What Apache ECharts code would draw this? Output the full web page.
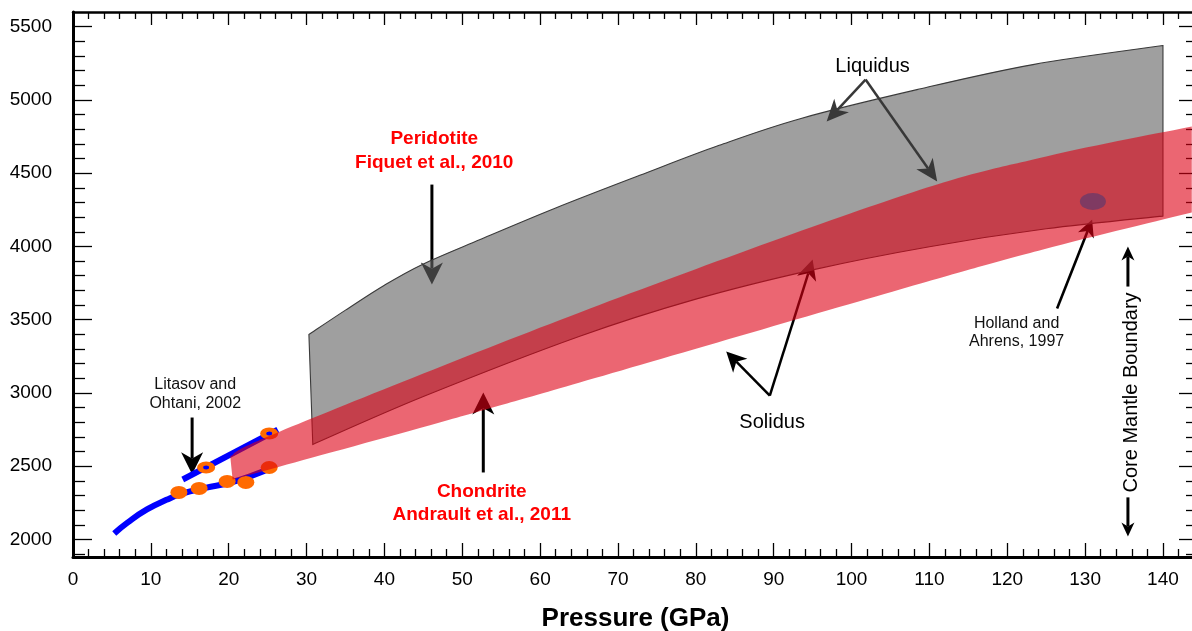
<!DOCTYPE html>
<html>
<head>
<meta charset="utf-8">
<script src="https://cdn.jsdelivr.net/npm/echarts@6/dist/echarts.min.js"></script>
<style>
  html, body { margin: 0; padding: 0; background: #fff; }
  #chart { width: 1192px; height: 631px; }
</style>
</head>
<body>
<div id="chart"></div>
<script>
// ---- Peridotite melting (Fiquet et al., 2010): pressure in GPa, temperature in K ----
const liquidusP = [30.3, 35, 40, 45, 52.3, 62, 72.8, 83, 93.4, 108.4, 123.3, 140];
const liquidusT = [3399, 3565, 3735, 3880, 4047, 4262, 4485, 4690, 4872, 5070, 5241, 5371];
const solidusP  = [30.8, 45, 65, 80, 95, 110, 125, 140];
const solidusT  = [2648, 2975, 3385, 3640, 3840, 3998, 4120, 4207];

// ---- Chondrite solidus band (Andrault et al., 2011) ----
const chondriteTopP = [20.2, 26.6, 65.1, 106.2, 125, 143.7];
const chondriteTopT = [2566, 2737, 3549, 4340, 4613, 4818];
const chondriteBotP = [20.5, 26.6, 47.1, 65.1, 106.2, 124.6, 143.7];
const chondriteBotT = [2409, 2498, 2798, 3071, 3706, 3979, 4231];

// ---- Litasov and Ohtani, 2002 ----
const litasovSolP = [5.3, 7, 9.5, 12, 14, 17, 20, 23, 25.8];
const litasovSolT = [2041, 2115, 2205, 2270, 2312, 2352, 2385, 2435, 2498];
const litasovLiqP = [14.1, 26.3];
const litasovLiqT = [2409, 2750];
const litasovSolidP = [13.6, 16.2, 19.8, 22.2, 25.2];
const litasovSolidT = [2321, 2348, 2396, 2389, 2491];
const litasovOpenP = [17.1, 25.2];
const litasovOpenT = [2491, 2723];

// ---- Holland and Ahrens, 1997 ----
const hollandP = [131.0];
const hollandT = [4306];

// ---- Axis ticks ----
const pressureTicks = [0, 10, 20, 30, 40, 50, 60, 70, 80, 90, 100, 110, 120, 130, 140];
const pressureMinor = [2, 4, 6, 8, 12, 14, 16, 18, 22, 24, 26, 28, 32, 34, 36, 38, 42, 44, 46, 48,
  52, 54, 56, 58, 62, 64, 66, 68, 72, 74, 76, 78, 82, 84, 86, 88, 92, 94, 96, 98, 102, 104, 106, 108,
  112, 114, 116, 118, 122, 124, 126, 128, 132, 134, 136, 138, 142, 144];
const tempTicks = [2000, 2500, 3000, 3500, 4000, 4500, 5000, 5500];
const tempMinor = [1900, 2100, 2200, 2300, 2400, 2600, 2700, 2800, 2900, 3100, 3200, 3300, 3400,
  3600, 3700, 3800, 3900, 4100, 4200, 4300, 4400, 4600, 4700, 4800, 4900, 5100, 5200, 5300, 5400];

// ---- Annotation texts and where they sit (in GPa / K) ----
const noteText = ['Liquidus', 'Peridotite\nFiquet et al., 2010', 'Chondrite\nAndrault et al., 2011',
  'Solidus', 'Litasov and\nOhtani, 2002', 'Holland and\nAhrens, 1997', 'Core Mantle Boundary'];
const noteAt = [[102.7, 5226], [46.4, 4655], [52.5, 2248], [89.8, 2796], [15.7, 2992], [121.2, 3410], [136.0, 3003]];
const noteStyle = [
  { fill: '#000', fontSize: 20, fontWeight: 'normal', lineHeight: 22, rot: 0 },
  { fill: '#ff0000', fontSize: 19, fontWeight: 'bold', lineHeight: 24, rot: 0 },
  { fill: '#ff0000', fontSize: 19, fontWeight: 'bold', lineHeight: 23, rot: 0 },
  { fill: '#000', fontSize: 20, fontWeight: 'normal', lineHeight: 22, rot: 0 },
  { fill: '#111', fontSize: 16, fontWeight: 'normal', lineHeight: 19, rot: 0 },
  { fill: '#111', fontSize: 16, fontWeight: 'normal', lineHeight: 18, rot: 0 },
  { fill: '#000', fontSize: 20, fontWeight: 'normal', lineHeight: 22, rot: Math.PI / 2 }
];

// Arrows: [fromP, fromT, toP, toT, styleIndex]; the head sits at the "to" end
const arrowsUnder = [
  [46.1, 4422, 46.1, 3740, 0],   // Peridotite
  [52.7, 2457, 52.7, 3003, 0],   // Chondrite
  [89.5, 2982, 83.9, 3283, 1],   // Solidus -> chondrite band
  [89.5, 2982, 95.0, 3910, 1],   // Solidus -> peridotite solidus
  [15.3, 2832, 15.3, 2444, 0],   // Litasov
  [126.4, 3576, 130.9, 4183, 2], // Holland
  [135.5, 3726, 135.5, 4000, 3], // CMB up
  [135.5, 2287, 135.5, 2020, 3]  // CMB down
];
const arrowsOver = [
  [101.8, 5139, 96.8, 4852, 4],  // Liquidus -> upper edge
  [101.8, 5139, 111.0, 4443, 4]  // Liquidus -> lower edge
];
const arrowStyle = [
  { color: '#000', width: 3, head: 22, half: 11 },
  { color: '#000', width: 2.5, head: 20, half: 10 },
  { color: '#000', width: 2.6, head: 17, half: 8.5 },
  { color: '#000', width: 3, head: 14, half: 6.5 },
  { color: '#383838', width: 2.5, head: 22, half: 10 }
];

const zip = (a, b) => a.map((v, i) => [v, b[i]]);
const FONT = '"Liberation Sans", Arial, Helvetica, sans-serif';

// Smooth path (Catmull-Rom as cubic Bezier) through pixel points; first point must already be current
function curveThrough(px) {
  let d = '';
  for (let i = 0; i < px.length - 1; i++) {
    const p0 = px[Math.max(i - 1, 0)], p1 = px[i], p2 = px[i + 1], p3 = px[Math.min(i + 2, px.length - 1)];
    const c1 = [p1[0] + (p2[0] - p0[0]) / 6, p1[1] + (p2[1] - p0[1]) / 6];
    const c2 = [p2[0] - (p3[0] - p1[0]) / 6, p2[1] - (p3[1] - p1[1]) / 6];
    d += ' C' + c1[0] + ' ' + c1[1] + ' ' + c2[0] + ' ' + c2[1] + ' ' + p2[0] + ' ' + p2[1];
  }
  return d;
}

function bandSeries(topP, topT, botP, botT, style, z) {
  const top = zip(topP, topT);
  const bot = zip(botP, botT).reverse();
  return {
    type: 'custom', z: z, silent: true,
    data: top.concat(bot),
    renderItem: (params, api) => {
      if (params.dataIndex !== 0) return null;
      const t = top.map(p => api.coord(p));
      const b = bot.map(p => api.coord(p));
      const d = 'M' + t[0][0] + ' ' + t[0][1] + curveThrough(t) +
        ' L' + b[0][0] + ' ' + b[0][1] + curveThrough(b) + ' Z';
      return { type: 'path', shape: { pathData: d }, style: style };
    }
  };
}

function arrowSeries(list, z) {
  return {
    type: 'custom', z: z, silent: true,
    data: list,
    renderItem: (params, api) => {
      const a = api.coord([api.value(0), api.value(1)]);
      const b = api.coord([api.value(2), api.value(3)]);
      const st = arrowStyle[api.value(4)];
      const dx = b[0] - a[0], dy = b[1] - a[1], len = Math.hypot(dx, dy);
      const ux = dx / len, uy = dy / len, vx = -uy, vy = ux;
      const L = st.head, W = st.half, n = L * 0.28;
      const back = [b[0] - ux * L, b[1] - uy * L];
      const notch = [b[0] - ux * (L - n), b[1] - uy * (L - n)];
      return {
        type: 'group', children: [
          { type: 'line', shape: { x1: a[0], y1: a[1], x2: notch[0], y2: notch[1] },
            style: { stroke: st.color, lineWidth: st.width } },
          { type: 'polygon', shape: { points: [b, [back[0] + vx * W, back[1] + vy * W], notch, [back[0] - vx * W, back[1] - vy * W]] },
            style: { fill: st.color } }
        ]
      };
    }
  };
}

function tickAxis(kind, position, values, len, showLine, lineWidth) {
  return {
    type: 'value', position: position,
    min: kind === 'x' ? 0 : 1880, max: kind === 'x' ? 144.5 : 5600,
    axisLine: { show: showLine, onZero: false, lineStyle: { color: '#000', width: lineWidth } },
    axisTick: { show: true, inside: true, length: len, customValues: values, lineStyle: { color: '#000', width: 1.3 } },
    axisLabel: { show: false },
    splitLine: { show: false }
  };
}

const chart = echarts.init(document.getElementById('chart'), null, { renderer: 'canvas' });

const plain = v => String(Math.round(v));

const xBottom = tickAxis('x', 'bottom', pressureTicks, 14, true, 3);
xBottom.axisLabel = { show: true, customValues: pressureTicks, formatter: plain, fontSize: 19, color: '#000', margin: 13, fontFamily: FONT };
xBottom.name = 'Pressure (GPa)';
xBottom.nameLocation = 'middle';
xBottom.nameGap = 49;
xBottom.nameTextStyle = { fontSize: 26, fontWeight: 'bold', color: '#000', fontFamily: FONT };

const yLeft = tickAxis('y', 'left', tempTicks, 19, true, 3);
yLeft.axisLabel = { show: true, customValues: tempTicks, formatter: plain, fontSize: 19, color: '#000', margin: 21, fontFamily: FONT };

chart.setOption({
  animation: false,
  backgroundColor: '#fff',
  grid: { left: 73, top: 12, width: 1125, height: 545, containLabel: false, outerBoundsMode: 'none' },
  xAxis: [
    xBottom,
    tickAxis('x', 'bottom', pressureMinor, 8, false, 1),
    tickAxis('x', 'top', pressureTicks, 13, true, 2.5),
    tickAxis('x', 'top', pressureMinor, 7, false, 1)
  ],
  yAxis: [
    yLeft,
    tickAxis('y', 'left', tempMinor, 12, false, 1),
    tickAxis('y', 'right', tempTicks, 19, true, 3),
    tickAxis('y', 'right', tempMinor, 12, false, 1)
  ],
  series: [
    arrowSeries(arrowsUnder, 1),
    {
      type: 'line', z: 2, silent: true, smooth: true, symbol: 'none',
      data: zip(litasovSolP, litasovSolT),
      lineStyle: { color: '#0000ff', width: 6, cap: 'butt' }
    },
    {
      type: 'line', z: 2, silent: true, symbol: 'none',
      data: zip(litasovLiqP, litasovLiqT),
      lineStyle: { color: '#0000ff', width: 6, cap: 'butt' }
    },
    {
      type: 'scatter', z: 3, silent: true, symbol: 'circle', symbolSize: [17, 13],
      data: zip(litasovSolidP, litasovSolidT),
      itemStyle: { color: '#ff6a00', opacity: 1 }
    },
    {
      type: 'scatter', z: 3, silent: true, symbol: 'circle', symbolSize: [12, 8],
      data: zip(litasovOpenP, litasovOpenT),
      itemStyle: { color: 'rgba(0,0,0,0)', borderColor: '#ff6a00', borderWidth: 5, opacity: 1 }
    },
    bandSeries(liquidusP, liquidusT, solidusP, solidusT,
      { fill: 'rgba(100,100,100,0.62)', stroke: '#3a3a3a', lineWidth: 1.1 }, 4),
    bandSeries(chondriteTopP, chondriteTopT, chondriteBotP, chondriteBotT,
      { fill: 'rgba(222,0,20,0.6)' }, 5),
    arrowSeries(arrowsOver, 6),
    {
      type: 'scatter', z: 7, silent: true, symbol: 'circle', symbolSize: [26, 17],
      data: zip(hollandP, hollandT),
      itemStyle: { color: '#7f3a62', opacity: 1 }
    },
    {
      type: 'custom', z: 8, silent: true,
      data: noteAt.map((p, i) => [p[0], p[1], i]),
      renderItem: (params, api) => {
        const i = api.value(2);
        const p = api.coord([api.value(0), api.value(1)]);
        const s = noteStyle[i];
        return {
          type: 'text', x: p[0], y: p[1], rotation: s.rot,
          style: {
            text: noteText[i], fill: s.fill, fontSize: s.fontSize, fontWeight: s.fontWeight,
            fontFamily: FONT, lineHeight: s.lineHeight, align: 'center', verticalAlign: 'middle'
          }
        };
      }
    }
  ]
});
</script>
</body>
</html>
